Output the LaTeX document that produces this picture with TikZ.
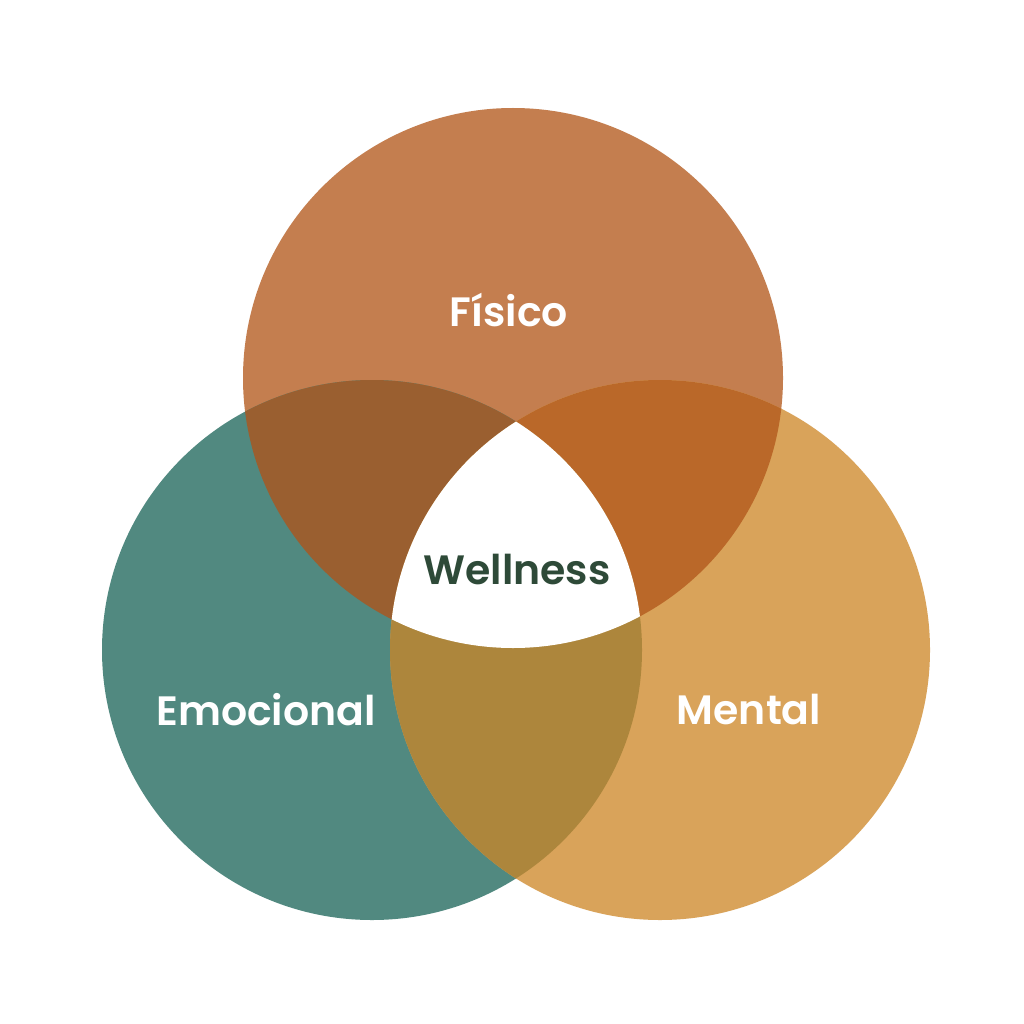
\documentclass[tikz,border=0pt]{standalone}
\usepackage{fontspec}
\setmainfont{Poppins}[BoldFont={Poppins SemiBold}]
\definecolor{cTop}{HTML}{C47E4F}
\definecolor{cLeft}{HTML}{518980}
\definecolor{cRight}{HTML}{D9A35A}
\definecolor{cTL}{HTML}{9A5F30}
\definecolor{cTR}{HTML}{BA6829}
\definecolor{cLR}{HTML}{AD863C}
\definecolor{cText}{HTML}{2E4A38}
\tikzset{lbl/.style={font=\fontsize{41}{45}\selectfont\bfseries, text=white, inner sep=0pt}}
\begin{document}
\begin{tikzpicture}[x=1pt,y=-1pt]
\useasboundingbox (0,0) rectangle (1024,1024);
\fill[white] (0,0) rectangle (1024,1024);
\def\R{270}
\coordinate (T) at (513,378);
\coordinate (L) at (372,650);
\coordinate (Rc) at (660,650);
\fill[cTop] (T) circle (\R);
\fill[cLeft] (L) circle (\R);
\fill[cRight] (Rc) circle (\R);
\begin{scope}
\clip (T) circle (\R);
\fill[cTL] (L) circle (\R);
\fill[cTR] (Rc) circle (\R);
\end{scope}
\begin{scope}
\clip (L) circle (\R);
\fill[cLR] (Rc) circle (\R);
\end{scope}
\begin{scope}
\clip (T) circle (\R);
\clip (L) circle (\R);
\fill[white] (Rc) circle (\R);
\end{scope}
\node[lbl] (fis) at (509,310) {Físico};
\node[lbl] (emo) at (266,710) {Emocional};
\node[lbl] (men) at (749,710) {Mental};
\node[lbl, text=cText] (wel) at (517,570) {Wellness};
\end{tikzpicture}
\end{document}
